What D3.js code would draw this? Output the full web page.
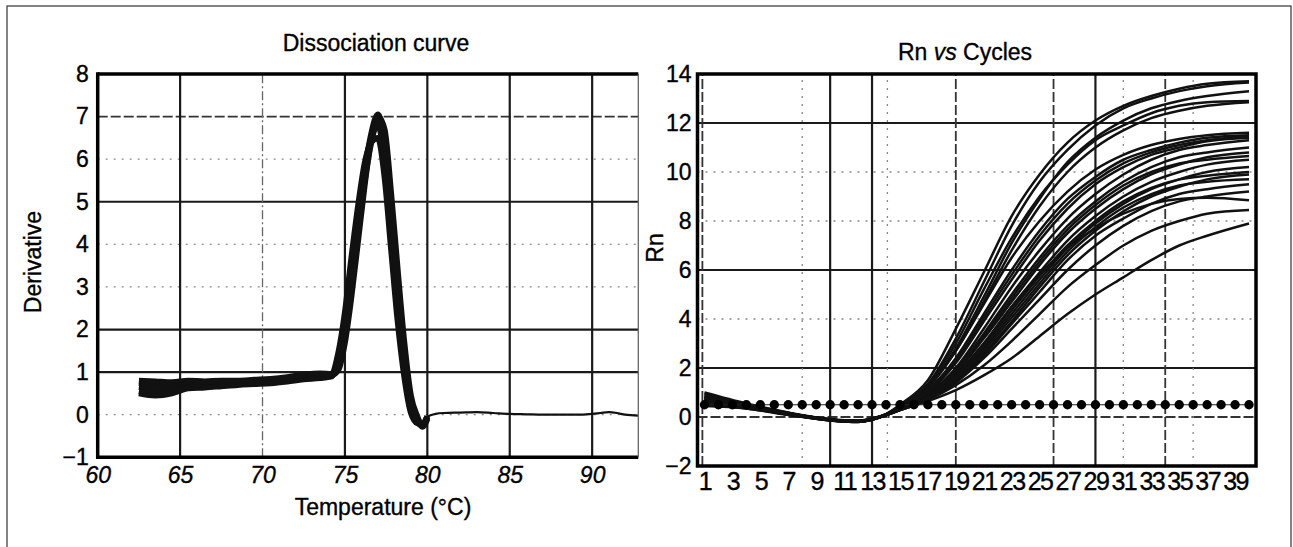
<!DOCTYPE html>
<html>
<head>
<meta charset="utf-8">
<script src="https://cdn.jsdelivr.net/npm/d3@7"></script>
<style>
body { margin: 0; background: #fff; }
svg text { font-family: "Liberation Sans", Arial, Helvetica, sans-serif; fill: #000; stroke: #000; stroke-width: 0.35px; }
</style>
</head>
<body>
<script>

// ---- dissociation curve data ----
let tempTicks = [60, 65, 70, 75, 80, 85, 90];
let derivTicks = [-1, 0, 1, 2, 3, 4, 5, 6, 7, 8];

let meltTemps = [62.5, 63.5, 64.5, 65.5, 66.5, 67.5, 68.5, 69.5, 70.5, 71.5, 72.5, 73.5, 74.2, 74.6,
                 75.0, 75.4, 75.8, 76.2, 76.6, 77.0, 77.4, 77.8, 78.2, 78.6, 79.0, 79.4, 79.7, 80.0];
let melt1 = [0.65, 0.62, 0.65, 0.72, 0.70, 0.73, 0.74, 0.76, 0.78, 0.82, 0.88, 0.90, 0.92, 1.20,
             2.00, 3.20, 4.50, 5.70, 6.60, 7.05, 6.30, 4.60, 2.90, 1.30, 0.20, -0.15, -0.25, -0.05];
let melt2 = [0.55, 0.50, 0.55, 0.66, 0.66, 0.70, 0.72, 0.74, 0.76, 0.80, 0.85, 0.88, 0.95, 1.45,
             2.40, 3.70, 4.90, 5.90, 6.40, 6.50, 5.60, 3.90, 2.20, 0.90, 0.05, -0.20, -0.22, -0.05];
let melt3 = [0.75, 0.72, 0.74, 0.78, 0.76, 0.78, 0.79, 0.80, 0.82, 0.86, 0.92, 0.95, 0.93, 1.05,
             1.70, 2.80, 4.10, 5.40, 6.50, 7.00, 6.70, 5.20, 3.40, 1.70, 0.45, -0.05, -0.28, -0.10];
let melt4 = [0.50, 0.45, 0.50, 0.62, 0.64, 0.67, 0.70, 0.72, 0.74, 0.78, 0.83, 0.86, 0.90, 1.30,
             2.20, 3.40, 4.70, 5.80, 6.50, 6.80, 6.00, 4.30, 2.60, 1.10, 0.10, -0.18, -0.26, -0.06];
let melt5 = [0.80, 0.78, 0.76, 0.80, 0.78, 0.80, 0.80, 0.82, 0.84, 0.88, 0.94, 0.97, 0.95, 1.15,
             1.90, 3.00, 4.30, 5.50, 6.40, 6.90, 6.50, 4.90, 3.10, 1.50, 0.30, -0.10, -0.24, -0.04];
let meltSeries = [melt1, melt2, melt3, melt4, melt5];

let tailTemps = [79.7, 80.0, 80.5, 81, 82, 83, 84, 85, 86, 87, 88, 89, 90, 90.5, 91, 91.5, 92, 92.8];
let tailValues = [-0.25, -0.05, 0.02, 0.04, 0.05, 0.06, 0.04, 0.02, 0.01, 0.0, 0.0, 0.0, 0.02, 0.04, 0.06, 0.04, 0.0, -0.02];

// ---- amplification data ----
let cycleTicks = [1, 3, 5, 7, 9, 11, 13, 15, 17, 19, 21, 23, 25, 27, 29, 31, 33, 35, 37, 39];
let rnTicks = [-2, 0, 2, 4, 6, 8, 10, 12, 14];
let threshold = 0.5;

let ampCycles = [1, 4, 7, 10, 12, 14, 15, 17, 19, 21, 23, 25, 27, 29, 31, 33, 35, 37, 40];
let ampA = [0.95, 0.50, 0.16, -0.10, -0.17, 0.12, 0.50, 1.50, 3.60, 5.90, 8.20, 9.90, 11.20, 12.10, 12.70, 13.10, 13.40, 13.60, 13.70];
let ampB = [0.75, 0.45, 0.12, -0.12, -0.18, 0.10, 0.45, 1.35, 3.20, 5.50, 7.80, 9.60, 10.90, 11.90, 12.60, 13.00, 13.30, 13.50, 13.65];
let ampC = [0.60, 0.40, 0.10, -0.11, -0.16, 0.10, 0.40, 1.20, 2.80, 4.90, 7.10, 8.90, 10.40, 11.40, 12.10, 12.60, 12.90, 13.10, 13.30];
let ampD = [1.00, 0.55, 0.18, -0.09, -0.15, 0.12, 0.45, 1.30, 3.00, 5.20, 7.30, 9.00, 10.30, 11.30, 11.90, 12.40, 12.70, 12.85, 12.90];
let ampE = [0.50, 0.35, 0.10, -0.13, -0.19, 0.09, 0.40, 1.20, 2.70, 4.70, 6.80, 8.60, 10.00, 11.00, 11.70, 12.20, 12.50, 12.70, 12.85];
let ampF = [0.80, 0.50, 0.15, -0.10, -0.16, 0.11, 0.40, 1.20, 2.70, 4.60, 6.50, 8.00, 9.20, 10.10, 10.70, 11.10, 11.35, 11.50, 11.60];
let ampG = [0.45, 0.35, 0.08, -0.14, -0.20, 0.08, 0.35, 1.10, 2.40, 4.20, 6.00, 7.60, 8.90, 9.80, 10.50, 10.90, 11.20, 11.40, 11.50];
let ampH = [0.75, 0.45, 0.14, -0.11, -0.17, 0.10, 0.35, 1.00, 2.20, 3.90, 5.60, 7.20, 8.50, 9.50, 10.20, 10.70, 11.00, 11.25, 11.40];
let ampI = [0.55, 0.40, 0.12, -0.12, -0.18, 0.09, 0.35, 0.95, 2.00, 3.60, 5.30, 6.80, 8.10, 9.10, 9.90, 10.50, 10.90, 11.10, 11.30];
let ampJ = [0.85, 0.50, 0.16, -0.10, -0.16, 0.10, 0.30, 0.90, 1.90, 3.40, 5.00, 6.50, 7.80, 8.80, 9.60, 10.20, 10.60, 10.80, 11.00];
let ampK = [0.60, 0.42, 0.11, -0.13, -0.19, 0.08, 0.30, 0.85, 1.80, 3.20, 4.70, 6.20, 7.50, 8.50, 9.30, 9.90, 10.30, 10.60, 10.80];
let ampL = [0.70, 0.45, 0.13, -0.11, -0.17, 0.09, 0.30, 0.80, 1.70, 3.00, 4.50, 5.90, 7.20, 8.20, 9.00, 9.60, 10.00, 10.30, 10.50];
let ampM = [0.50, 0.38, 0.10, -0.14, -0.20, 0.07, 0.30, 0.80, 1.60, 2.80, 4.20, 5.60, 6.90, 7.90, 8.70, 9.30, 9.70, 10.00, 10.20];
let ampN = [0.90, 0.52, 0.17, -0.09, -0.15, 0.10, 0.30, 0.75, 1.50, 2.60, 3.90, 5.30, 6.60, 7.60, 8.40, 9.00, 9.40, 9.70, 9.90];
let ampO = [0.65, 0.43, 0.12, -0.12, -0.18, 0.08, 0.30, 0.75, 1.45, 2.50, 3.80, 5.10, 6.40, 7.40, 8.10, 8.70, 9.10, 9.30, 9.50];
let ampP = [0.55, 0.40, 0.10, -0.13, -0.19, 0.07, 0.28, 0.70, 1.40, 2.40, 3.60, 4.80, 6.00, 7.00, 7.80, 8.40, 8.80, 9.00, 9.20];
let ampQ = [0.80, 0.48, 0.15, -0.10, -0.16, 0.09, 0.30, 0.80, 1.70, 3.00, 4.50, 5.80, 6.90, 7.70, 8.30, 8.70, 8.90, 8.95, 8.85];
let ampR = [0.60, 0.42, 0.12, -0.12, -0.18, 0.08, 0.28, 0.70, 1.30, 2.10, 3.10, 4.20, 5.30, 6.20, 7.00, 7.60, 8.00, 8.30, 8.45];
let ampS = [0.70, 0.45, 0.14, -0.11, -0.17, 0.08, 0.28, 0.65, 1.10, 1.70, 2.40, 3.30, 4.20, 5.00, 5.70, 6.40, 7.00, 7.40, 7.90];
let ampT = [0.65, 0.42, 0.12, -0.12, -0.18, 0.09, 0.35, 1.05, 2.30, 4.05, 5.80, 7.40, 8.70, 9.65, 10.35, 10.80, 11.10, 11.30, 11.45];
let ampU = [0.80, 0.48, 0.14, -0.10, -0.16, 0.10, 0.30, 0.88, 1.85, 3.30, 4.85, 6.35, 7.65, 8.65, 9.45, 10.00, 10.35, 10.50, 10.65];
let ampV = [0.55, 0.40, 0.11, -0.13, -0.19, 0.08, 0.30, 0.80, 1.65, 2.90, 4.35, 5.75, 7.00, 8.00, 8.80, 9.35, 9.70, 9.85, 10.00];
let ampX = [0.60, 0.42, 0.12, -0.12, -0.18, 0.08, 0.30, 0.78, 1.55, 2.70, 4.05, 5.45, 6.75, 7.75, 8.55, 9.10, 9.45, 9.60, 9.70];
let ampSeries = [ampA, ampB, ampC, ampD, ampE, ampF, ampG, ampH, ampI, ampJ, ampK, ampL,
                 ampM, ampN, ampO, ampP, ampQ, ampR, ampS, ampT, ampU, ampV, ampX];
let thresholdCycles = d3.range(1, 41);


let width = 1293,
	height = 547;

let svg = d3.select("body")
	.append("svg")
	.attr("width", width)
	.attr("height", height);

// outer frame of the figure
svg.append("rect")
	.attr("x", 7).attr("y", 6)
	.attr("width", 1284).attr("height", 560)
	.attr("fill", "none")
	.attr("stroke", "#333")
	.attr("stroke-width", 1.2);

let styles = {
	solid:   { stroke: "#1a1a1a", width: 2.2, dash: null },
	dashed:  { stroke: "#333",    width: 1.8, dash: "10,3" },
	dotted:  { stroke: "#888",    width: 1.3, dash: "2,6" },
	dashdot: { stroke: "#666",    width: 1.3, dash: "9,3,2,3" }
};

function drawGrid(g, x, y, hLines, vLines) {
	let x0 = x.range()[0], x1 = x.range()[1],
		y0 = y.range()[0], y1 = y.range()[1];
	hLines.forEach(function(l) {
		let s = styles[l[1]];
		g.append("line")
			.attr("x1", x0).attr("x2", x1)
			.attr("y1", y(l[0])).attr("y2", y(l[0]))
			.attr("stroke", s.stroke).attr("stroke-width", s.width)
			.attr("stroke-dasharray", s.dash);
	});
	vLines.forEach(function(l) {
		let s = styles[l[1]];
		g.append("line")
			.attr("y1", y0).attr("y2", y1)
			.attr("x1", x(l[0])).attr("x2", x(l[0]))
			.attr("stroke", s.stroke).attr("stroke-width", s.width)
			.attr("stroke-dasharray", s.dash);
	});
}

function styleAxis(g, size, italic) {
	g.select(".domain").remove();
	g.attr("font-size", size)
	 .attr("font-family", null);
	g.selectAll("text")
		.attr("fill", "#000")
		.attr("font-style", italic ? "italic" : null);
}

// =========== left: dissociation curve ===========
let xL = d3.scaleLinear().domain([60, 92.8]).range([97.7, 638.3]);
let yL = d3.scaleLinear().domain([-1, 8]).range([457.3, 74]);

let left = svg.append("g");

drawGrid(left, xL, yL,
	[[0, "dotted"], [1, "solid"], [2, "solid"], [3, "dotted"], [4, "dotted"],
	 [5, "solid"], [6, "dotted"], [7, "dashed"]],
	[[65, "solid"], [70, "dashdot"], [75, "solid"], [80, "solid"], [85, "solid"], [90, "solid"]]);

let meltLine = d3.line()
	.x(function(d) { return xL(d[0]); })
	.y(function(d) { return yL(d[1]); })
	.curve(d3.curveMonotoneX);

left.selectAll(".melt")
	.data(meltSeries)
	.enter().append("path")
	.attr("class", "melt")
	.attr("fill", "none")
	.attr("stroke", "#111")
	.attr("stroke-width", 6)
	.attr("stroke-linejoin", "round")
	.attr("d", function(vals) { return meltLine(meltTemps.map(function(t, i) { return [t, vals[i]]; })); });

left.append("path")
	.attr("fill", "none")
	.attr("stroke", "#111")
	.attr("stroke-width", 2.2)
	.attr("d", meltLine(tailTemps.map(function(t, i) { return [t, tailValues[i]]; })));

// frame: heavy left, top, bottom; light right
left.append("line").attr("x1", xL(60)).attr("x2", xL(60)).attr("y1", yL(8) - 1.7).attr("y2", yL(-1) + 1.7)
	.attr("stroke", "#000").attr("stroke-width", 3.5);
left.append("line").attr("x1", xL(60)).attr("x2", xL(92.8)).attr("y1", yL(8)).attr("y2", yL(8))
	.attr("stroke", "#000").attr("stroke-width", 3.5);
left.append("line").attr("x1", xL(60)).attr("x2", xL(92.8)).attr("y1", yL(-1)).attr("y2", yL(-1))
	.attr("stroke", "#000").attr("stroke-width", 3.5);
left.append("line").attr("x1", xL(92.8)).attr("x2", xL(92.8)).attr("y1", yL(8)).attr("y2", yL(-1))
	.attr("stroke", "#666").attr("stroke-width", 1.3);

left.append("g")
	.attr("transform", "translate(0," + yL(-1) + ")")
	.call(d3.axisBottom(xL).tickValues(tempTicks).tickSize(0).tickPadding(9))
	.call(function(g) { styleAxis(g, 23, true); });

left.append("g")
	.attr("transform", "translate(" + xL(60) + ",0)")
	.call(d3.axisLeft(yL).tickValues(derivTicks).tickSize(0).tickPadding(9).tickFormat(d3.format("d")))
	.call(function(g) { styleAxis(g, 23, false); });

left.append("text")
	.attr("x", 376).attr("y", 51)
	.attr("text-anchor", "middle")
	.attr("font-size", 23)
	.text("Dissociation curve");

left.append("text")
	.attr("x", 383).attr("y", 515)
	.attr("text-anchor", "middle")
	.attr("font-size", 23)
	.text("Temperature (°C)");

left.append("text")
	.attr("transform", "translate(41,262) rotate(-90)")
	.attr("text-anchor", "middle")
	.attr("font-size", 23)
	.text("Derivative");

// =========== right: Rn vs cycles ===========
let xR = d3.scaleLinear().domain([0.5, 40.5]).range([697.5, 1256]);
let yR = d3.scaleLinear().domain([-2, 14]).range([466, 74]);

let right = svg.append("g");

drawGrid(right, xR, yR,
	[[0, "dashed"], [2, "solid"], [4, "dotted"], [6, "solid"], [8, "dotted"],
	 [10, "dotted"], [12, "solid"]],
	[[0.85, "dashed"], [8, "dotted"], [10, "solid"], [13, "solid"], [14.1, "dotted"], [19, "dashed"],
	 [26, "dashed"], [29, "solid"], [31, "dotted"], [34, "dashed"], [36, "dotted"]]);

let ampLine = d3.line()
	.x(function(d) { return xR(d[0]); })
	.y(function(d) { return yR(d[1]); })
	.curve(d3.curveMonotoneX);

right.selectAll(".amp")
	.data(ampSeries)
	.enter().append("path")
	.attr("class", "amp")
	.attr("fill", "none")
	.attr("stroke", "#111")
	.attr("stroke-width", 2.5)
	.attr("d", function(vals) { return ampLine(ampCycles.map(function(c, i) { return [c, vals[i]]; })); });

// threshold line with a dot at each cycle
right.append("line")
	.attr("x1", xR(1)).attr("x2", xR(40))
	.attr("y1", yR(threshold)).attr("y2", yR(threshold))
	.attr("stroke", "#222").attr("stroke-width", 1.2);

right.selectAll(".dot")
	.data(thresholdCycles)
	.enter().append("circle")
	.attr("class", "dot")
	.attr("cx", function(d) { return xR(d); })
	.attr("cy", yR(threshold))
	.attr("r", 4.7)
	.attr("fill", "#000");

right.append("rect")
	.attr("x", xR(0.5)).attr("y", yR(14))
	.attr("width", xR(40.5) - xR(0.5)).attr("height", yR(-2) - yR(14))
	.attr("fill", "none")
	.attr("stroke", "#000").attr("stroke-width", 3.5);

right.append("g")
	.attr("transform", "translate(0," + yR(-2) + ")")
	.call(d3.axisBottom(xR).tickValues(cycleTicks).tickSize(0).tickPadding(6))
	.call(function(g) { styleAxis(g, 25, false); })
	.selectAll("text").attr("letter-spacing", -1.5);

right.append("g")
	.attr("transform", "translate(" + xR(0.5) + ",0)")
	.call(d3.axisLeft(yR).tickValues(rnTicks).tickSize(0).tickPadding(6).tickFormat(d3.format("d")))
	.call(function(g) { styleAxis(g, 23, false); });

let rt = right.append("text")
	.attr("x", 965).attr("y", 60)
	.attr("text-anchor", "middle")
	.attr("font-size", 23);
rt.append("tspan").text("Rn ");
rt.append("tspan").attr("font-style", "italic").text("vs");
rt.append("tspan").text(" Cycles");

right.append("text")
	.attr("transform", "translate(663,248) rotate(-90)")
	.attr("text-anchor", "middle")
	.attr("font-size", 23)
	.text("Rn");

</script>
</body>
</html>
